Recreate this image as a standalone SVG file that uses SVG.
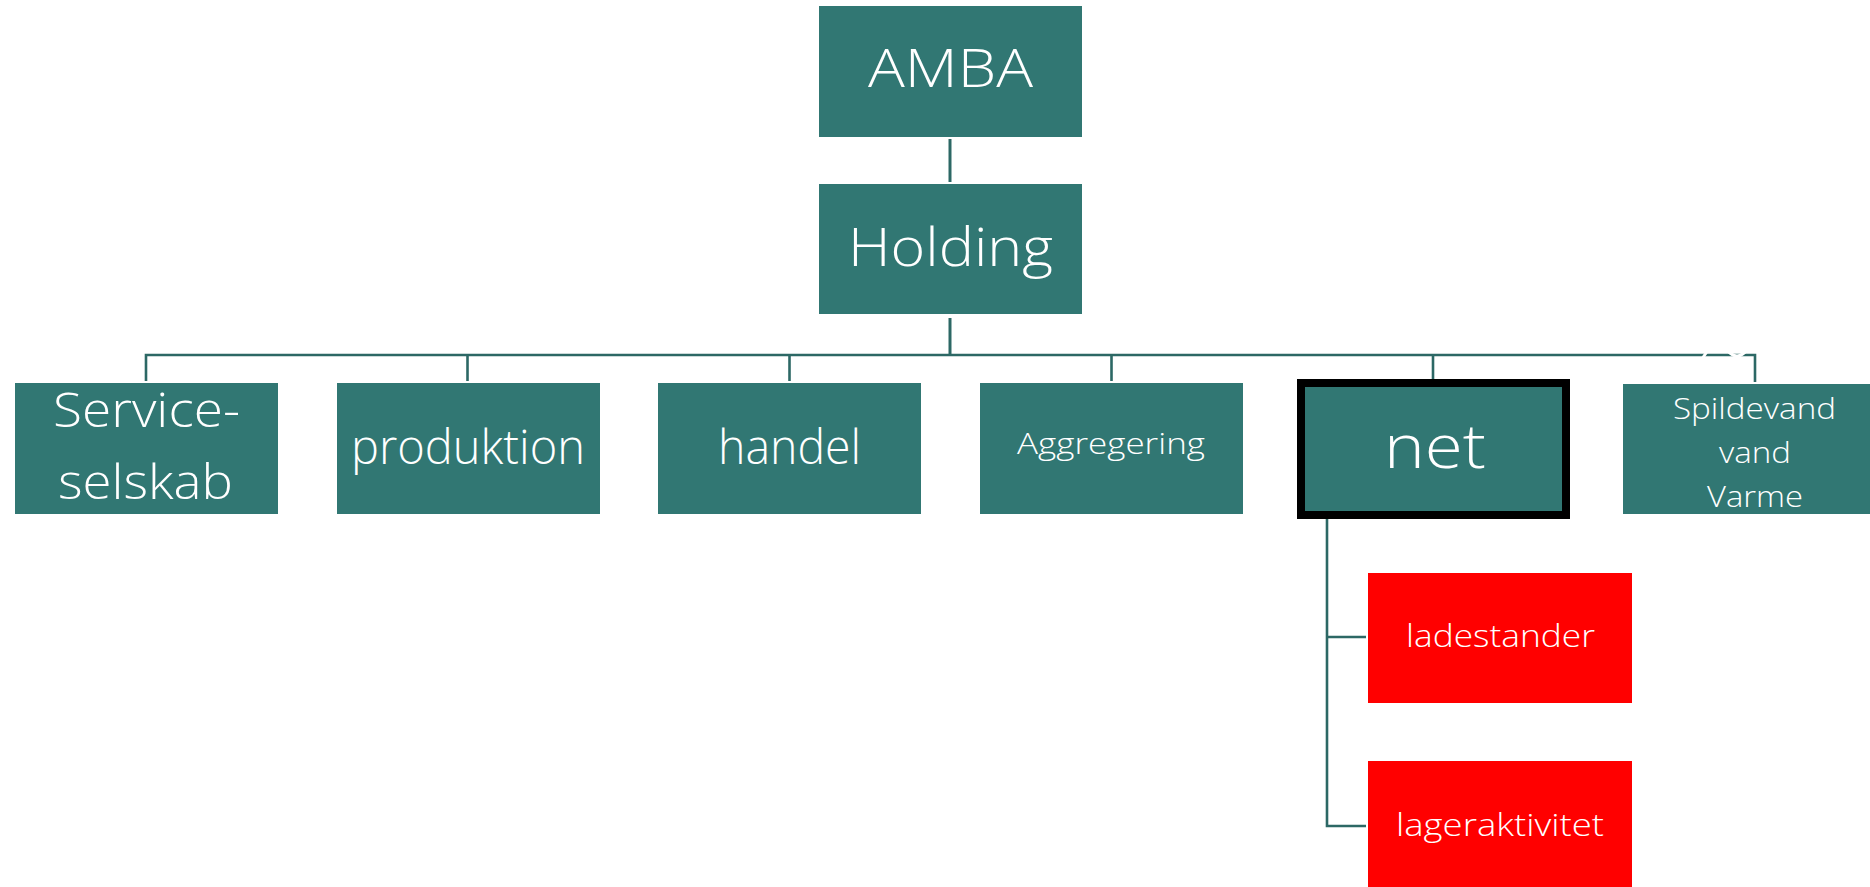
<svg xmlns="http://www.w3.org/2000/svg" width="1870" height="887" viewBox="0 0 1870 887">
<style>
.box{fill:#317773}
.red{fill:#ff0000}
.t{fill:#ffffff;font-family:"Open Sans","Liberation Sans",sans-serif;font-weight:300;text-anchor:middle}
.c{fill:none;stroke:#2c6865;stroke-width:2.6}
</style>
<rect width="1870" height="887" fill="#ffffff"/>
<g id="connectors">
<line class="c" x1="950" y1="139" x2="950" y2="182" style="stroke-width:3"/>
<line class="c" x1="950" y1="318" x2="950" y2="355" style="stroke-width:3"/>
<polyline class="c" points="146,381 146,355 1755,355 1755,382"/>
<line class="c" x1="467.5" y1="355" x2="467.5" y2="381"/>
<line class="c" x1="789.5" y1="355" x2="789.5" y2="381"/>
<line class="c" x1="1111.5" y1="355" x2="1111.5" y2="381"/>
<line class="c" x1="1433" y1="355" x2="1433" y2="379"/>
<polyline class="c" points="1327,519 1327,826 1366,826"/>
<line class="c" x1="1327" y1="637" x2="1366" y2="637"/>
<path d="M1702,359 L1708,350 M1727,350 Q1737,362 1747,350" fill="none" stroke="#ffffff" stroke-width="3"/>
</g>
<g id="amba">
<rect class="box" x="819" y="6" width="263" height="131"/>
<text class="t" x="950.5" y="87" font-size="53" textLength="165" lengthAdjust="spacingAndGlyphs">AMBA</text>
</g>
<g id="holding">
<rect class="box" x="819" y="184" width="263" height="130"/>
<text class="t" x="950.5" y="266" font-size="53" textLength="205" lengthAdjust="spacingAndGlyphs">Holding</text>
</g>
<g id="serviceselskab">
<rect class="box" x="15" y="383" width="263" height="131"/>
<text class="t" x="146.5" y="427" font-size="47" textLength="187" lengthAdjust="spacingAndGlyphs">Service-</text>
<text class="t" x="145.5" y="499" font-size="47" textLength="175" lengthAdjust="spacingAndGlyphs">selskab</text>
</g>
<g id="produktion">
<rect class="box" x="337" y="383" width="263" height="131"/>
<text class="t" x="468" y="464" font-size="47" textLength="234" lengthAdjust="spacingAndGlyphs">produktion</text>
</g>
<g id="handel">
<rect class="box" x="658" y="383" width="263" height="131"/>
<text class="t" x="789.5" y="464" font-size="47" textLength="143" lengthAdjust="spacingAndGlyphs">handel</text>
</g>
<g id="aggregering">
<rect class="box" x="980" y="383" width="263" height="131"/>
<text class="t" x="1111" y="454" font-size="30" textLength="188" lengthAdjust="spacingAndGlyphs">Aggregering</text>
</g>
<g id="net">
<rect class="box" x="1301" y="383" width="265" height="132" stroke="#000000" stroke-width="8"/>
<text class="t" x="1435" y="468" font-size="60" textLength="102" lengthAdjust="spacingAndGlyphs">net</text>
</g>
<g id="spildevand">
<rect class="box" x="1623" y="384" width="263" height="130"/>
<text class="t" x="1754.5" y="419" font-size="30" textLength="163" lengthAdjust="spacingAndGlyphs">Spildevand</text>
<text class="t" x="1755" y="463" font-size="30" textLength="72" lengthAdjust="spacingAndGlyphs">vand</text>
<text class="t" x="1755" y="507" font-size="30" textLength="96" lengthAdjust="spacingAndGlyphs">Varme</text>
</g>
<g id="ladestander">
<rect class="red" x="1368" y="573" width="264" height="130"/>
<text class="t" x="1500.5" y="647" font-size="31" textLength="189" lengthAdjust="spacingAndGlyphs">ladestander</text>
</g>
<g id="lageraktivitet">
<rect class="red" x="1368" y="761" width="264" height="130"/>
<text class="t" x="1500" y="836" font-size="31" textLength="208" lengthAdjust="spacingAndGlyphs">lageraktivitet</text>
</g>
</svg>
